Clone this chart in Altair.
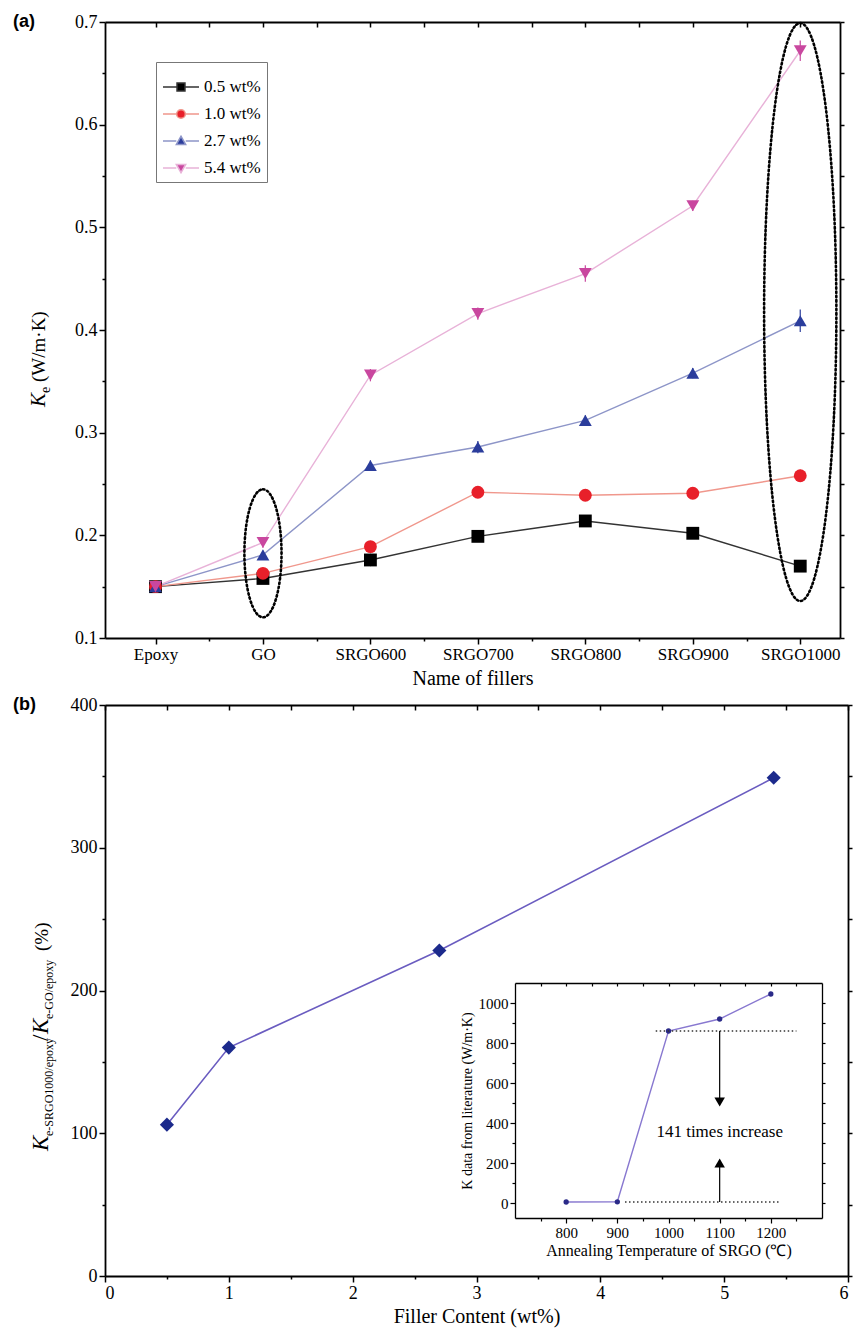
import altair as alt
import pandas as pd

# ---------------- data ----------------
fillers = ["Epoxy", "GO", "SRGO600", "SRGO700", "SRGO800", "SRGO900", "SRGO1000"]
series_names = ["0.5 wt%", "1.0 wt%", "2.7 wt%", "5.4 wt%"]
ke_05 = [0.150, 0.158, 0.176, 0.199, 0.214, 0.202, 0.170]
ke_10 = [0.150, 0.163, 0.189, 0.242, 0.239, 0.241, 0.258]
ke_27 = [0.150, 0.181, 0.268, 0.286, 0.312, 0.358, 0.409]
ke_54 = [0.150, 0.193, 0.356, 0.416, 0.455, 0.521, 0.672]
err_05 = [0.003, 0.004, 0.006, 0.004, 0.005, 0.004, 0.004]
err_10 = [0.003, 0.004, 0.004, 0.005, 0.004, 0.004, 0.006]
err_27 = [0.003, 0.004, 0.005, 0.006, 0.005, 0.005, 0.011]
err_54 = [0.003, 0.005, 0.006, 0.006, 0.008, 0.005, 0.010]

filler_content = [0.5, 1.0, 2.7, 5.4]
ratio_pct = [106, 160, 228, 349]

anneal_T = [800, 900, 1000, 1100, 1200]
k_lit = [5, 6, 860, 920, 1045]

# annotation values (data units)
ellipse_GO = {"idx": 2, "ymid": 0.1825}
ellipse_1000 = {"idx": 7, "ymid": 0.4175}
dotted_y = [860, 5]
dotted_x1 = [975, 915]
dotted_x2 = [1250, 1215]
arrow_T = 1100
arrow_from = [860, 5]
arrow_to = [505, 200]
note_text = "141 times increase"
note_pos = (1100, 355)

SERIF = "Liberation Serif"
SANS = "Liberation Sans"

marker_colors = ["#000000", "#e8202a", "#2b3d9c", "#c9479f"]
line_colors = ["#333333", "#f0978c", "#8d95c8", "#e8b2d8"]
shapes_std = ["square", "circle", "triangle-up", "triangle-down"]
legend_paths = [
    "M-1,0L-0.22,0M-0.22,-0.22L0.22,-0.22L0.22,0.22L-0.22,0.22ZM0.22,0L1,0",
    "M-1,0L-0.24,0M-0.24,0A0.24,0.24 0 1,1 0.24,0A0.24,0.24 0 1,1 -0.24,0ZM0.24,0L1,0",
    "M-1,0L-0.26,0M-0.26,0.2L0,-0.26L0.26,0.2ZM0.26,0L1,0",
    "M-1,0L-0.26,0M-0.26,-0.2L0.26,-0.2L0,0.26ZM0.26,0L1,0",
]

rows = []
for s, vals, errs in zip(series_names, [ke_05, ke_10, ke_27, ke_54], [err_05, err_10, err_27, err_54]):
    for i, f in enumerate(fillers):
        rows.append({"series": s, "idx": i + 1, "filler": f, "ke": vals[i], "err": errs[i]})
df_a = pd.DataFrame(rows)
df_b = pd.DataFrame({"wt": filler_content, "ratio": ratio_pct})
df_in = pd.DataFrame({"T": anneal_T, "K": k_lit})
df_dot = pd.DataFrame({"y": dotted_y, "x1": dotted_x1, "x2": dotted_x2})
df_arr = pd.DataFrame({"T": [arrow_T, arrow_T], "y1": arrow_from, "y2": arrow_to})


def axis(orient, values, labels=True, tick=6, domain=True, offset=None, size=18, **kw):
    d = dict(orient=orient, values=values, labels=labels, ticks=True, tickSize=tick, domain=domain,
             grid=False, domainColor="black", domainWidth=1.8, tickColor="black", tickWidth=1.5,
             labelFont=SERIF, labelFontSize=size, labelColor="black", title=None)
    if offset is not None:
        d["offset"] = offset
    d.update(kw)
    return alt.Axis(**d)


def txt(s, x, y, size, font=SERIF, style="normal", weight="normal", angle=0, align="left",
        baseline="alphabetic"):
    return alt.Chart(pd.DataFrame({"t": [s]})).mark_text(
        font=font, fontSize=size, fontStyle=style, fontWeight=weight, angle=angle,
        align=align, baseline=baseline, color="black"
    ).encode(x=alt.value(x), y=alt.value(y), text="t:N")


# ================= panel (a) =================
W_A, H_A = 735, 616
xa = alt.Scale(domain=[0.53, 7.37], nice=False, zero=False)
ya = alt.Scale(domain=[0.1, 0.7], nice=False, zero=False)
label_expr = "[" + ",".join("'" + f + "'" for f in [""] + fillers) + "][datum.value]"
xa_major = [1, 2, 3, 4, 5, 6, 7]
xa_minor = [1.5, 2.5, 3.5, 4.5, 5.5, 6.5]
xa_all = [1, 1.5, 2, 2.5, 3, 3.5, 4, 4.5, 5, 5.5, 6, 6.5, 7]
ya_major = [0.1, 0.2, 0.3, 0.4, 0.5, 0.6, 0.7]
ya_minor = [0.15, 0.25, 0.35, 0.45, 0.55, 0.65]
ya_all = [0.1, 0.15, 0.2, 0.25, 0.3, 0.35, 0.4, 0.45, 0.5, 0.55, 0.6, 0.65, 0.7]

lines_a = alt.Chart(df_a).mark_line(strokeWidth=1.4).encode(
    x=alt.X("idx:Q", scale=xa, axis=axis("bottom", xa_major, labelExpr=label_expr, size=17,
                                        title="Name of fillers", titleFont=SERIF, titleFontSize=20,
                                        titleFontWeight="normal", titleColor="black", titlePadding=6)),
    y=alt.Y("ke:Q", scale=ya, axis=axis("left", ya_major, format=".1f")),
    color=alt.Color("series:N", scale=alt.Scale(domain=series_names, range=line_colors), legend=None),
    order="idx:Q",
)

err_a = alt.Chart(df_a).transform_calculate(
    lo="datum.ke - datum.err", hi="datum.ke + datum.err"
).mark_rule(strokeWidth=1.2).encode(
    x=alt.X("idx:Q", scale=xa, axis=axis("bottom", xa_minor, labels=False, tick=3, domain=False)),
    y=alt.Y("lo:Q", scale=ya, axis=axis("left", ya_minor, labels=False, tick=3, domain=False)),
    y2="hi:Q",
    color=alt.Color("series:N", scale=alt.Scale(domain=series_names, range=marker_colors), legend=None),
)

pts_a = alt.Chart(df_a).mark_point(filled=True, opacity=1, size=165).encode(
    x=alt.X("idx:Q", scale=xa, axis=axis("bottom", xa_all, labels=False, tick=5, offset=-H_A)),
    y=alt.Y("ke:Q", scale=ya, axis=axis("right", ya_all, labels=False, tick=4)),
    color=alt.Color("series:N", scale=alt.Scale(domain=series_names, range=marker_colors), legend=None),
    shape=alt.Shape("series:N", scale=alt.Scale(domain=series_names, range=shapes_std), legend=None),
)

ell_path_go = "M0,-1A0.29,1 0 1,1 0,1A0.29,1 0 1,1 0,-1Z"
ell_go = alt.Chart(pd.DataFrame([ellipse_GO])).mark_point(
    shape=ell_path_go, size=128 * 128, filled=False, color="black", strokeWidth=2.6,
    strokeDash=[1.5, 2.8], strokeCap="round", opacity=1
).encode(x=alt.X("idx:Q", scale=xa, axis=None), y=alt.Y("ymid:Q", scale=ya, axis=None))

ell_path_1000 = "M0,-1A0.125,1 0 1,1 0,1A0.125,1 0 1,1 0,-1Z"
ell_1000 = alt.Chart(pd.DataFrame([ellipse_1000])).mark_point(
    shape=ell_path_1000, size=578 * 578, filled=False, color="black", strokeWidth=2.6,
    strokeDash=[1.5, 2.8], strokeCap="round", opacity=1
).encode(x=alt.X("idx:Q", scale=xa, axis=None), y=alt.Y("ymid:Q", scale=ya, axis=None))

leg_common = dict(orient="none", legendX=51, legendY=40, title=None, strokeColor="#777777",
                  fillColor="white", padding=6, labelFont=SERIF, labelFontSize=17,
                  labelColor="black", symbolSize=1300, symbolStrokeWidth=1.5, rowPadding=0,
                  labelOffset=4)
leg_a = alt.Chart(df_a).transform_filter("false").mark_point(filled=True, opacity=1).encode(
    x=alt.X("idx:Q", scale=xa, axis=None),
    y=alt.Y("ke:Q", scale=ya, axis=None),
    fill=alt.Fill("series:N", scale=alt.Scale(domain=series_names, range=marker_colors),
                  legend=alt.Legend(**leg_common)),
    stroke=alt.Stroke("series:N", scale=alt.Scale(domain=series_names, range=line_colors),
                      legend=alt.Legend(**leg_common)),
    shape=alt.Shape("series:N", scale=alt.Scale(domain=series_names, range=legend_paths),
                    legend=alt.Legend(**leg_common)),
)

tx_a = [
    txt("(a)", -92, 0, 18, font=SANS, weight="bold", baseline="middle"),
    txt("K", -60, 385, 21, style="italic", angle=270),
    txt("e", -55, 371, 14, angle=270),
    txt("(W/m·K)", -60, 360, 19, angle=270),
]

panel_a = alt.layer(lines_a, err_a, pts_a, ell_go, ell_1000, leg_a, *tx_a).resolve_scale(
    x="independent", y="independent", color="independent", shape="independent",
    fill="independent", stroke="independent"
).resolve_axis(x="independent", y="independent").properties(width=W_A, height=H_A)

# ================= panel (b) =================
W_B, H_B = 743, 571
xb = alt.Scale(domain=[0, 6], nice=False, zero=False)
yb = alt.Scale(domain=[0, 400], nice=False, zero=False)
xb_major = [0, 1, 2, 3, 4, 5, 6]
xb_minor = [0.5, 1.5, 2.5, 3.5, 4.5, 5.5]
xb_all = [0, 0.5, 1, 1.5, 2, 2.5, 3, 3.5, 4, 4.5, 5, 5.5, 6]
yb_major = [0, 100, 200, 300, 400]
yb_minor = [50, 150, 250, 350]
yb_all = [0, 50, 100, 150, 200, 250, 300, 350, 400]

IN_L, IN_R, IN_T, IN_B = 410, 717, 278, 513
xi = alt.Scale(domain=[700, 1300], range=[IN_L, IN_R], nice=False, zero=False)
yi = alt.Scale(domain=[-75, 1100], range=[IN_B, IN_T], nice=False, zero=False)
xi_major = [800, 900, 1000, 1100, 1200]
xi_minor = [750, 850, 950, 1050, 1150, 1250]
yi_major = [0, 200, 400, 600, 800, 1000]
yi_minor = [100, 300, 500, 700, 900]
xi_all = [750, 800, 850, 900, 950, 1000, 1050, 1100, 1150, 1200, 1250]
yi_all = [0, 100, 200, 300, 400, 500, 600, 700, 800, 900, 1000]

line_b = alt.Chart(df_b).mark_line(color="#6a5cc0", strokeWidth=1.6).encode(
    x=alt.X("wt:Q", scale=xb, axis=axis("bottom", xb_major, format="d", title="Filler Content (wt%)",
                                       titleFont=SERIF, titleFontSize=20, titleFontWeight="normal",
                                       titleColor="black", titlePadding=4)),
    y=alt.Y("ratio:Q", scale=yb, axis=axis("left", yb_major, format="d")),
)
pts_b = alt.Chart(df_b).mark_point(shape="diamond", filled=True, color="#1c2a8c", size=200,
                                   opacity=1).encode(
    x=alt.X("wt:Q", scale=xb, axis=axis("bottom", xb_minor, labels=False, tick=3, domain=False)),
    y=alt.Y("ratio:Q", scale=yb, axis=axis("left", yb_minor, labels=False, tick=3, domain=False)),
)
frame_b = alt.Chart(df_b).mark_line(opacity=0).encode(
    x=alt.X("wt:Q", scale=xb, axis=axis("bottom", xb_all, labels=False, tick=5, offset=-H_B)),
    y=alt.Y("ratio:Q", scale=yb, axis=axis("right", yb_all, labels=False, tick=4)),
)

in_axis = dict(size=15, domainWidth=1.3, tickWidth=1.2)
line_in = alt.Chart(df_in).mark_line(color="#8878d0", strokeWidth=1.4).encode(
    x=alt.X("T:Q", scale=xi, axis=axis("bottom", xi_major, tick=5, offset=-(H_B - IN_B), format="d",
                                      title="Annealing Temperature of SRGO (℃)", titleFont=SERIF,
                                      titleFontSize=16, titleFontWeight="normal", titleColor="black",
                                      titlePadding=2, **in_axis)),
    y=alt.Y("K:Q", scale=yi, axis=axis("left", yi_major, tick=5, offset=-IN_L, format="d",
                                      title="K data from literature (W/m·K)", titleFont=SERIF,
                                      titleFontSize=14, titleFontWeight="normal", titleColor="black",
                                      titlePadding=4, **in_axis)),
)
pts_in = alt.Chart(df_in).mark_point(shape="circle", filled=True, color="#2a2a88", size=28,
                                     opacity=1).encode(
    x=alt.X("T:Q", scale=xi, axis=axis("bottom", xi_all, labels=False, tick=3,
                                      offset=-(H_B - IN_T), **in_axis)),
    y=alt.Y("K:Q", scale=yi, axis=axis("right", yi_all, labels=False, tick=3,
                                      offset=-(W_B - IN_R), **in_axis)),
)
dots_in = alt.Chart(df_dot).mark_rule(color="#333333", strokeWidth=1.3, strokeDash=[1.5, 2.5]).encode(
    x=alt.X("x1:Q", scale=xi, axis=axis("bottom", xi_minor, labels=False, tick=3, domain=False,
                                       offset=-(H_B - IN_B), **in_axis)),
    x2="x2:Q",
    y=alt.Y("y:Q", scale=yi, axis=axis("left", yi_minor, labels=False, tick=3, domain=False,
                                      offset=-IN_L, **in_axis)),
)
arr_in = alt.Chart(df_arr).mark_rule(color="black", strokeWidth=1.2).encode(
    x=alt.X("T:Q", scale=xi, axis=None), y=alt.Y("y1:Q", scale=yi, axis=None), y2="y2:Q"
)
head_dn = alt.Chart(df_arr.iloc[[0]]).mark_point(shape="triangle-down", filled=True, color="black",
                                                  size=110, opacity=1).encode(
    x=alt.X("T:Q", scale=xi, axis=None), y=alt.Y("y2:Q", scale=yi, axis=None))
head_up = alt.Chart(df_arr.iloc[[1]]).mark_point(shape="triangle-up", filled=True, color="black",
                                                  size=110, opacity=1).encode(
    x=alt.X("T:Q", scale=xi, axis=None), y=alt.Y("y2:Q", scale=yi, axis=None))
note_in = alt.Chart(pd.DataFrame({"T": [note_pos[0]], "K": [note_pos[1]], "t": [note_text]})).mark_text(
    font=SERIF, fontSize=17, color="black", align="center", baseline="middle"
).encode(x=alt.X("T:Q", scale=xi, axis=None), y=alt.Y("K:Q", scale=yi, axis=None), text="t:N")

tx_b = [
    txt("(b)", -92, 0, 18, font=SANS, weight="bold", baseline="middle"),
    txt("K", -57, 446, 23, style="italic", angle=270),
    txt("e-SRGO1000/epoxy", -52, 431, 12, angle=270),
    txt("/", -57, 336, 23, angle=270),
    txt("K", -57, 329, 23, style="italic", angle=270),
    txt("e-GO/epoxy", -52, 314, 12, angle=270),
    txt("(%)", -57, 246, 19, angle=270),
]

panel_b = alt.layer(line_b, pts_b, frame_b, line_in, pts_in, dots_in, arr_in, head_dn, head_up,
                    note_in, *tx_b).resolve_scale(
    x="independent", y="independent"
).resolve_axis(x="independent", y="independent").properties(width=W_B, height=H_B)

chart = alt.vconcat(panel_a, panel_b, spacing=67, bounds="flush").properties(
    padding={"left": 13, "top": 13, "right": 2, "bottom": 4}
).configure(background="white").configure_view(stroke=None).configure_axis(
    labelFont=SERIF, titleFont=SERIF, labelColor="black", titleColor="black"
).configure_text(font=SERIF)

chart.save("out.html", embed_options={"renderer": "svg", "actions": False})
